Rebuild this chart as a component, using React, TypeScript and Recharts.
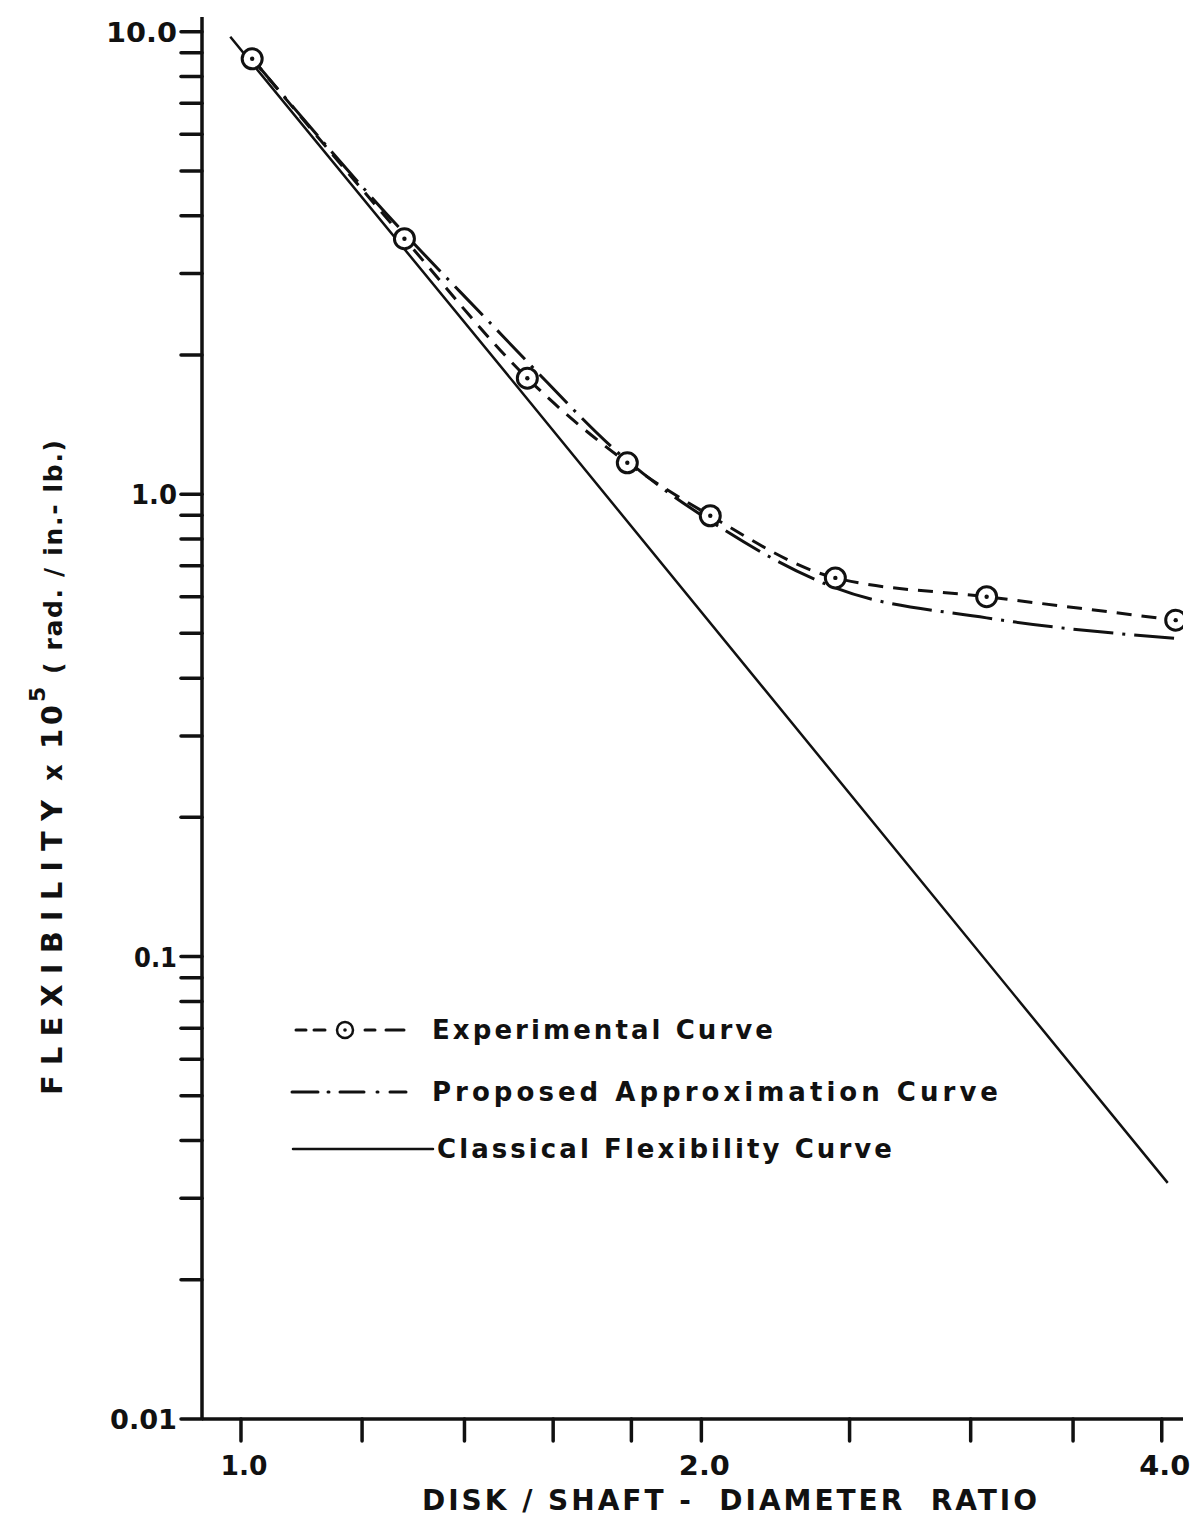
import React from 'react';
import { LineChart, Line, XAxis, YAxis } from 'recharts';

// Disk / shaft diameter ratio vs. flexibility (x 10^5 rad / in.-lb.), log-log.
const experimentalRatio = [1.017, 1.279, 1.539, 1.789, 2.027, 2.447, 3.073, 4.085];
const experimentalFlex = [8.74, 3.567, 1.781, 1.169, 0.898, 0.659, 0.6, 0.534];

const proposedRatio = [1.017, 1.278, 1.455, 1.539, 1.789, 2.027, 2.447, 3.073, 4.129];
const proposedFlex = [8.74, 3.674, 2.347, 1.933, 1.181, 0.875, 0.627, 0.54, 0.486];

const classicalRatio = [0.984, 1.516, 4.036];
const classicalFlex = [9.75, 1.707, 0.0324];

const ratioTicks = [1, 1.2, 1.4, 1.6, 1.8, 2, 2.5, 3, 3.5, 4];
const ratioTickLabels = [
  { value: 1, text: '1.0', width: 47 },
  { value: 2, text: '2.0', width: 51 },
  { value: 4, text: '4.0', width: 51 },
];

const flexTicks = [
  0.01, 0.02, 0.03, 0.04, 0.05, 0.06, 0.07, 0.08, 0.09,
  0.1, 0.2, 0.3, 0.4, 0.5, 0.6, 0.7, 0.8, 0.9,
  1, 2, 3, 4, 5, 6, 7, 8, 9, 10,
];
const flexTickLabels = [
  { value: 0.01, text: '0.01', width: 67 },
  { value: 0.1, text: '0.1', width: 43 },
  { value: 1, text: '1.0', width: 46 },
  { value: 10, text: '10.0', width: 71 },
];

const legendItems = ['Experimental Curve', 'Proposed Approximation Curve', 'Classical Flexibility Curve'];

const toPoints = (xs: number[], ys: number[]) => xs.map((d, i) => ({ ratio: d, flex: ys[i] }));

const experimentalData = toPoints(experimentalRatio, experimentalFlex);
const proposedData = toPoints(proposedRatio, proposedFlex);
const classicalData = toPoints(classicalRatio, classicalFlex);

const FONT = '"DejaVu Sans", "Noto Sans", sans-serif';
const INK = '#111';

function RatioTick(props: any) {
  const { x, y, payload } = props;
  const label = ratioTickLabels.find((l) => Math.abs(l.value - payload.value) < 1e-9);
  return (
    <g>
      <line x1={x} x2={x} y1={y} y2={y + 22} stroke={INK} strokeWidth={3.5} strokeLinecap="round" />
      {label && (
        <text
          x={x + 3}
          y={y + 56}
          textAnchor="middle"
          fontFamily={FONT}
          fontWeight="bold"
          fontSize={27}
          fill={INK}
          textLength={label.width}
          lengthAdjust="spacingAndGlyphs"
        >
          {label.text}
        </text>
      )}
    </g>
  );
}

function FlexTick(props: any) {
  const { x, y, payload } = props;
  const label = flexTickLabels.find((l) => Math.abs(l.value - payload.value) < 1e-9);
  return (
    <g>
      <line x1={x - 21} x2={x} y1={y} y2={y} stroke={INK} strokeWidth={3.5} strokeLinecap="round" />
      {label && (
        <text
          x={x - 25 - label.width}
          y={y + 10}
          textAnchor="start"
          fontFamily={FONT}
          fontWeight="bold"
          fontSize={27}
          fill={INK}
          textLength={label.width}
          lengthAdjust="spacingAndGlyphs"
        >
          {label.text}
        </text>
      )}
    </g>
  );
}

function TestPoint(props: any) {
  const { cx, cy } = props;
  if (cx == null || cy == null) return null;
  return (
    <g>
      <circle cx={cx} cy={cy} r={10} fill="#fff" stroke={INK} strokeWidth={3} />
      <circle cx={cx} cy={cy} r={2.2} fill={INK} />
    </g>
  );
}

function Annotations() {
  const textProps = {
    fontFamily: FONT,
    fontWeight: 'bold' as const,
    fill: INK,
    lengthAdjust: 'spacing' as const,
    style: { whiteSpace: 'pre' as const },
  };
  const rows = [1030, 1092, 1149];
  return (
    <svg
      width={1193}
      height={1518}
      style={{ position: 'absolute', left: 0, top: 0, pointerEvents: 'none' }}
    >
      {/* legend samples */}
      <g stroke={INK} strokeWidth={3} strokeLinecap="round">
        <line x1={296} x2={306} y1={rows[0]} y2={rows[0]} />
        <line x1={314} x2={325} y1={rows[0]} y2={rows[0]} />
        <line x1={365} x2={375} y1={rows[0]} y2={rows[0]} />
        <line x1={386} x2={404} y1={rows[0]} y2={rows[0]} />
        <line x1={292} x2={318} y1={rows[1]} y2={rows[1]} />
        <line x1={328} x2={329} y1={rows[1]} y2={rows[1]} />
        <line x1={340} x2={364} y1={rows[1]} y2={rows[1]} />
        <line x1={377} x2={378} y1={rows[1]} y2={rows[1]} />
        <line x1={390} x2={406} y1={rows[1]} y2={rows[1]} />
        <line x1={293} x2={433} y1={rows[2]} y2={rows[2]} strokeWidth={2.5} />
      </g>
      <circle cx={345} cy={rows[0]} r={8} fill="#fff" stroke={INK} strokeWidth={2.5} />
      <circle cx={345} cy={rows[0]} r={1.8} fill={INK} />
      <text x={432} y={rows[0] + 9} fontSize={26} textLength={341} {...textProps}>
        {legendItems[0]}
      </text>
      <text x={432} y={rows[1] + 9} fontSize={26} textLength={566} {...textProps}>
        {legendItems[1]}
      </text>
      <text x={437} y={rows[2] + 9} fontSize={26} textLength={455} {...textProps}>
        {legendItems[2]}
      </text>

      {/* x axis title */}
      <text x={422} y={1510} fontSize={28} textLength={615} {...textProps}>
        {'DISK / SHAFT -  DIAMETER  RATIO'}
      </text>

      {/* y axis title */}
      <g transform="translate(62, 1095) rotate(-90)">
        <text x={0} y={0} fontSize={29} textLength={295} {...textProps}>
          FLEXIBILITY
        </text>
        <text x={314} y={0} fontSize={26} {...textProps}>
          x
        </text>
        <text x={346} y={0} fontSize={29} textLength={44} {...textProps}>
          10
        </text>
        <text x={393} y={-17} fontSize={22} {...textProps}>
          5
        </text>
        <text x={421} y={0} fontSize={25} textLength={234} {...textProps}>
          {'( rad. / in.- lb.)'}
        </text>
      </g>
    </svg>
  );
}

export default function App() {
  return (
    <div style={{ position: 'absolute', left: 0, top: 0, width: 1193, height: 1518, background: '#fff' }}>
      <LineChart
        width={1193}
        height={1518}
        margin={{ top: 17, right: 10, bottom: 0, left: 0 }}
      >
        <XAxis
          dataKey="ratio"
          type="number"
          scale="log"
          domain={[0.943, 4.13]}
          allowDataOverflow
          ticks={ratioTicks}
          interval={0}
          height={99}
          tickSize={0}
          tickMargin={0}
          tickLine={false}
          axisLine={{ stroke: INK, strokeWidth: 3.5 }}
          tick={<RatioTick />}
        />
        <YAxis
          dataKey="flex"
          type="number"
          scale="log"
          domain={[0.01, 10.76]}
          allowDataOverflow
          ticks={flexTicks}
          interval={0}
          width={202}
          tickSize={0}
          tickMargin={0}
          tickLine={false}
          axisLine={{ stroke: INK, strokeWidth: 3.5 }}
          tick={<FlexTick />}
        />
        <Line
          data={classicalData}
          dataKey="flex"
          type="linear"
          stroke={INK}
          strokeWidth={2.5}
          dot={false}
          activeDot={false}
          isAnimationActive={false}
        />
        <Line
          data={proposedData}
          dataKey="flex"
          type="monotone"
          stroke={INK}
          strokeWidth={3}
          strokeDasharray="40 9 3 9"
          dot={false}
          activeDot={false}
          isAnimationActive={false}
        />
        <Line
          data={experimentalData}
          dataKey="flex"
          type="monotone"
          stroke={INK}
          strokeWidth={3}
          strokeDasharray="15 10"
          dot={<TestPoint />}
          activeDot={false}
          isAnimationActive={false}
        />
      </LineChart>
      <Annotations />
    </div>
  );
}
